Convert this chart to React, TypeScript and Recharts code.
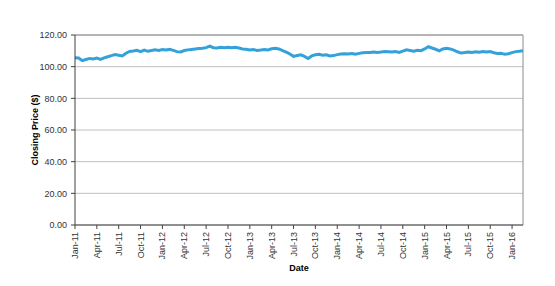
import { CartesianGrid, Line, LineChart, ReferenceLine, XAxis, YAxis } from 'recharts';

// closing prices, sampled twice a month starting Jan-11
const PRICES = [
  105.7, 105.5, 103.8, 104.5, 105.2, 104.8, 105.4, 104.6, 105.6, 106.3,
  107.0, 107.6, 107.2, 106.8, 108.5, 109.6, 109.9, 110.3, 109.5, 110.5,
  109.7, 110.2, 110.6, 110.2, 110.8, 110.5, 110.9, 110.3, 109.5, 109.3,
  110.2, 110.6, 110.9, 111.2, 111.4, 111.6, 112.0, 113.0, 112.0, 111.8,
  112.2, 112.0, 112.3, 112.0, 112.2, 111.8, 111.2, 111.0, 110.6, 110.8,
  110.2, 110.5, 110.9, 110.6, 111.3, 111.6, 111.2, 110.2, 109.2, 108.0,
  106.5, 107.0, 107.5, 106.5, 105.2, 106.8, 107.5, 107.8, 107.2, 107.5,
  106.8, 107.0, 107.6, 108.0, 108.2, 108.0, 108.3, 107.8, 108.4, 108.8,
  109.0, 108.9, 109.3, 109.0, 109.2, 109.5, 109.4, 109.2, 109.6, 109.0,
  109.8, 110.6, 110.2, 109.8, 110.4, 110.1, 111.2, 112.6, 111.8, 111.0,
  110.0, 111.2, 111.6, 111.2, 110.4, 109.4, 108.6, 108.9, 109.3, 108.9,
  109.4, 109.1, 109.6, 109.3, 109.5, 108.8, 108.3, 108.5, 107.8, 108.2,
  108.9, 109.5, 109.7, 110.1,
];

// month offsets from Jan-11 for the quarterly ticks
const QUARTER_TICKS = [0, 3, 6, 9, 12, 15, 18, 21, 24, 27, 30, 33, 36, 39, 42, 45, 48, 51, 54, 57, 60];
const QUARTER_LABELS = [
  'Jan-11', 'Apr-11', 'Jul-11', 'Oct-11',
  'Jan-12', 'Apr-12', 'Jul-12', 'Oct-12',
  'Jan-13', 'Apr-13', 'Jul-13', 'Oct-13',
  'Jan-14', 'Apr-14', 'Jul-14', 'Oct-14',
  'Jan-15', 'Apr-15', 'Jul-15', 'Oct-15',
  'Jan-16',
];
const PRICE_TICKS = [0, 20, 40, 60, 80, 100, 120];

const X_MAX = 61.5;
const FONT = '"Liberation Sans", Arial, sans-serif';
const AXIS_COLOR = '#404040';

const data = PRICES.map((price, i) => ({ month: i / 2, price }));

function DateTick({ x, y, payload }: any) {
  const idx = QUARTER_TICKS.indexOf(payload.value);
  return (
    <text
      x={x}
      y={y}
      transform={`rotate(-90 ${x} ${y})`}
      textAnchor="end"
      dominantBaseline="central"
      fontSize={9}
      fontFamily={FONT}
      fill="#333"
    >
      {QUARTER_LABELS[idx]}
    </text>
  );
}

function PriceLabel({ viewBox }: any) {
  const cx = viewBox.x + 35;
  const cy = viewBox.y + viewBox.height / 2;
  return (
    <text
      x={cx}
      y={cy}
      transform={`rotate(-90 ${cx} ${cy})`}
      textAnchor="middle"
      dominantBaseline="central"
      fontSize={9}
      fontWeight="bold"
      fontFamily={FONT}
      fill="#000"
    >
      Closing Price ($)
    </text>
  );
}

export default function App() {
  return (
    <div style={{ position: 'absolute', left: 0, top: 0, background: '#fff' }}>
      <LineChart
        width={555}
        height={286}
        data={data}
        margin={{ top: 35, right: 32, bottom: 0, left: 0 }}
      >
        <CartesianGrid vertical={false} stroke="#c0c0c0" />
        <XAxis
          dataKey="month"
          type="number"
          domain={[0, X_MAX]}
          ticks={QUARTER_TICKS}
          interval={0}
          height={61}
          tickSize={4}
          tickMargin={3}
          stroke={AXIS_COLOR}
          tick={<DateTick />}
          label={{
            value: 'Date',
            position: 'insideBottom',
            offset: 15,
            style: { fontSize: 9, fontWeight: 'bold', fontFamily: FONT, fill: '#000' },
          }}
        />
        <YAxis
          domain={[0, 120]}
          ticks={PRICE_TICKS}
          width={75}
          tickSize={4}
          tickMargin={4}
          stroke={AXIS_COLOR}
          tickFormatter={(v: number) => v.toFixed(2)}
          tick={{ fontSize: 9, fontFamily: FONT, fill: '#333' }}
          label={<PriceLabel />}
        />
        <ReferenceLine y={120} stroke="#8c8c8c" />
        <ReferenceLine x={X_MAX} stroke="#8c8c8c" />
        <Line
          type="linear"
          dataKey="price"
          stroke="#34a2da"
          strokeWidth={3}
          dot={false}
          isAnimationActive={false}
        />
      </LineChart>
    </div>
  );
}
